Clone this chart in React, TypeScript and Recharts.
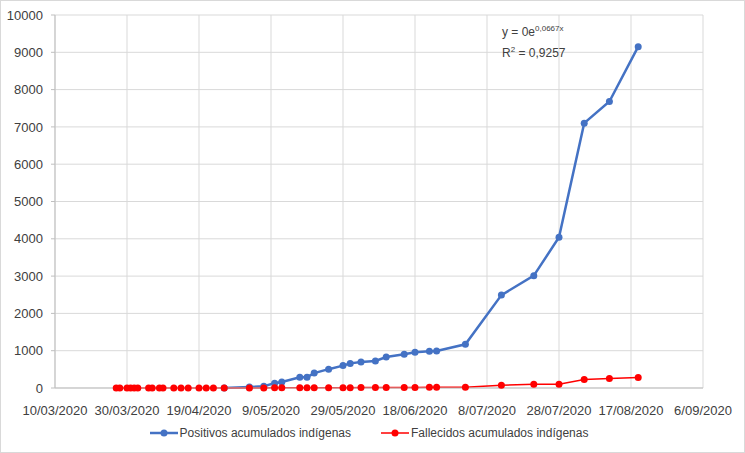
import { LineChart, Line, XAxis, YAxis, CartesianGrid, Legend } from 'recharts';

const fechas = [
  '27/03/2020', '28/03/2020', '30/03/2020', '31/03/2020', '1/04/2020', '2/04/2020',
  '5/04/2020', '6/04/2020', '8/04/2020', '9/04/2020', '12/04/2020', '14/04/2020',
  '16/04/2020', '19/04/2020', '21/04/2020', '23/04/2020', '26/04/2020', '3/05/2020',
  '7/05/2020', '10/05/2020', '12/05/2020', '17/05/2020', '19/05/2020', '21/05/2020',
  '25/05/2020', '29/05/2020', '31/05/2020', '3/06/2020', '7/06/2020', '10/06/2020',
  '15/06/2020', '18/06/2020', '22/06/2020', '24/06/2020', '2/07/2020', '12/07/2020',
  '21/07/2020', '28/07/2020', '4/08/2020', '11/08/2020', '19/08/2020',
];

const positivos = [
  null, null, null, null, null, null, null, null, null, null, null, null, null, null, null, null,
  2, 27, 45, 130, 160, 285, 290, 400, 505, 600, 660, 697, 724, 830, 903, 957, 984, 990, 1172,
  2490, 3011, 4040, 7100, 7680, 9150,
];

const fallecidos = [
  0, 0, 0, 0, 0, 0, 0, 0, 0, 0, 1, 1, 1, 1, 2, 2, 2, 3, 3, 4, 4, 5, 6, 6, 7, 8, 10, 11, 12, 13,
  15, 16, 17, 18, 20, 72, 99, 99, 225, 252, 279,
];

const xTicks = [0, 20, 40, 60, 80, 100, 120, 140, 160, 180];
const yTicks = [0, 1000, 2000, 3000, 4000, 5000, 6000, 7000, 8000, 9000, 10000];

const DAY = 86400000;
const T0 = Date.UTC(2020, 2, 10);

const toDay = (s: string) => {
  const [d, m, y] = s.split('/').map(Number);
  return (Date.UTC(y, m - 1, d) - T0) / DAY;
};

const fmtDay = (v: number) => {
  const dt = new Date(T0 + v * DAY);
  const mm = String(dt.getUTCMonth() + 1).padStart(2, '0');
  return `${dt.getUTCDate()}/${mm}/${dt.getUTCFullYear()}`;
};

const data = fechas.map((f, i) => ({
  day: toDay(f),
  positivos: positivos[i],
  fallecidos: fallecidos[i],
}));

const BLUE = '#4472C4';
const RED = '#FF0000';
const FONT = '"Liberation Sans", Arial, sans-serif';

const renderLegend = () => (
  <div
    style={{
      display: 'flex',
      justifyContent: 'center',
      gap: 30,
      fontFamily: FONT,
      fontSize: 12,
      color: '#404040',
      paddingLeft: 34,
      paddingTop: 8,
    }}
  >
    {[
      { label: 'Positivos acumulados indígenas', color: BLUE, w: 2.5 },
      { label: 'Fallecidos acumulados indígenas', color: RED, w: 1.5 },
    ].map((it) => (
      <div key={it.label} style={{ display: 'flex', alignItems: 'center' }}>
        <svg width={28} height={10} style={{ marginRight: 2 }}>
          <line x1={0} y1={5} x2={28} y2={5} stroke={it.color} strokeWidth={it.w} />
          <circle cx={14} cy={5} r={3.5} fill={it.color} />
        </svg>
        <span>{it.label}</span>
      </div>
    ))}
  </div>
);

export default function App() {
  return (
    <div
      style={{
        position: 'absolute',
        left: 0,
        top: 0,
        width: 743,
        height: 451,
        border: '1px solid #d9d9d9',
        background: '#fff',
      }}
    >
      <LineChart
        width={743}
        height={451}
        data={data}
        margin={{ top: 14, right: 41, left: 0, bottom: 4 }}
      >
        <CartesianGrid stroke="#d9d9d9" />
        <XAxis
          dataKey="day"
          type="number"
          domain={[0, 180]}
          ticks={xTicks}
          tickFormatter={fmtDay}
          interval={0}
          height={30}
          stroke="#bfbfbf"
          tickLine={false}
          tickMargin={12}
          tick={{ fill: '#404040', fontSize: 13, fontFamily: FONT }}
        />
        <YAxis
          type="number"
          domain={[0, 10000]}
          ticks={yTicks}
          interval={0}
          width={54}
          stroke="#bfbfbf"
          tickSize={4}
          tickMargin={8}
          tick={{ fill: '#404040', fontSize: 13, fontFamily: FONT }}
        />
        <Legend content={renderLegend} verticalAlign="bottom" height={30} />
        <Line
          dataKey="positivos"
          stroke={BLUE}
          strokeWidth={2.5}
          dot={{ r: 3.5, fill: BLUE, stroke: BLUE, strokeWidth: 0 }}
          isAnimationActive={false}
        />
        <Line
          dataKey="fallecidos"
          stroke={RED}
          strokeWidth={1.5}
          dot={{ r: 3.5, fill: RED, stroke: RED, strokeWidth: 0 }}
          isAnimationActive={false}
        />
      </LineChart>
      <div
        style={{
          position: 'absolute',
          left: 501,
          top: 19,
          fontFamily: FONT,
          fontSize: 12,
          color: '#404040',
          lineHeight: '17px',
        }}
      >
        <div>
          y = 0e<sup style={{ fontSize: 8 }}>0,0667x</sup>
        </div>
        <div>
          R<sup style={{ fontSize: 8 }}>2</sup> = 0,9257
        </div>
      </div>
    </div>
  );
}
